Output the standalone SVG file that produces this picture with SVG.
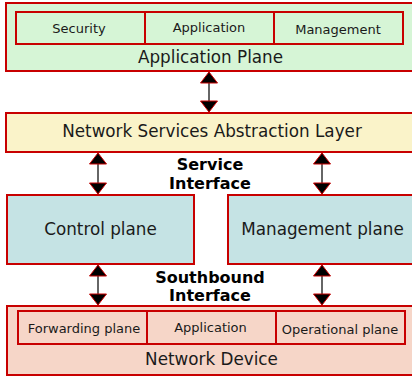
<svg xmlns="http://www.w3.org/2000/svg" width="412" height="381" viewBox="0 0 412 381">
<defs>
<style>
.box{stroke:#c80000;stroke-width:2}
.g{fill:#d6f5d6}
.y{fill:#faf3c9}
.t{fill:#c5e3e4}
.s{fill:#f6d6c8}
text{font-family:"DejaVu Sans",Verdana,sans-serif;fill:#1a1a1a;text-anchor:middle}
.big{font-size:16.8px}
.sm{font-size:13px}
.lbl{font-size:16px;font-weight:bold;fill:#000}
.arr{stroke:#333;stroke-width:1.5;fill:none;marker-start:url(#ah);marker-end:url(#ah)}
</style>
<marker id="ah" markerUnits="userSpaceOnUse" markerWidth="14" markerHeight="22" viewBox="-1 -10 14 20" refX="11" refY="0" orient="auto-start-reverse">
<path d="M0,-8.5 L11,0 L0,8.5 z" fill="#000" stroke="#c80000" stroke-width="1"/>
</marker>
</defs>
<g id="application-plane">
<rect class="box g" x="6" y="3" width="414" height="68"/>
<text class="big" x="210.5" y="63">Application Plane</text>
</g>
<g id="security">
<rect class="box g" x="16" y="12" width="129" height="32"/>
<text class="sm" x="79" y="32.5">Security</text>
</g>
<g id="application-top">
<rect class="box g" x="145" y="12" width="129" height="32"/>
<text class="sm" x="209" y="32">Application</text>
</g>
<g id="management">
<rect class="box g" x="274" y="12" width="129" height="32"/>
<text class="sm" x="338" y="34">Management</text>
</g>
<g id="nsal">
<rect class="box y" x="6" y="113" width="414" height="39"/>
<text class="big" x="212" y="137">Network Services Abstraction Layer</text>
</g>
<g id="control-plane">
<rect class="box t" x="7" y="195" width="187" height="69"/>
<text class="big" x="100.5" y="235">Control plane</text>
</g>
<g id="management-plane">
<rect class="box t" x="228" y="195" width="192" height="69"/>
<text class="big" x="322.5" y="235">Management plane</text>
</g>
<g id="network-device">
<rect class="box s" x="7" y="306" width="413" height="69"/>
<text class="big" x="211.5" y="365">Network Device</text>
</g>
<g id="forwarding-plane">
<rect class="box s" x="18" y="311" width="129" height="33"/>
<text class="sm" x="84" y="333">Forwarding plane</text>
</g>
<g id="application-bottom">
<rect class="box s" x="147" y="311" width="129" height="33"/>
<text class="sm" x="210.5" y="332">Application</text>
</g>
<g id="operational-plane">
<rect class="box s" x="276" y="311" width="129" height="33"/>
<text class="sm" x="340" y="334">Operational plane</text>
</g>
<g id="labels">
<text class="lbl" x="210" y="170">Service</text>
<text class="lbl" x="210" y="189">Interface</text>
<text class="lbl" x="210" y="283">Southbound</text>
<text class="lbl" x="210" y="301">Interface</text>
</g>
<g id="connectors">
<line class="arr" x1="209" y1="72" x2="209" y2="112"/>
<line class="arr" x1="98" y1="153" x2="98" y2="194"/>
<line class="arr" x1="322" y1="153" x2="322" y2="194"/>
<line class="arr" x1="98" y1="265" x2="98" y2="305"/>
<line class="arr" x1="322" y1="265" x2="322" y2="305"/>
</g>
</svg>
